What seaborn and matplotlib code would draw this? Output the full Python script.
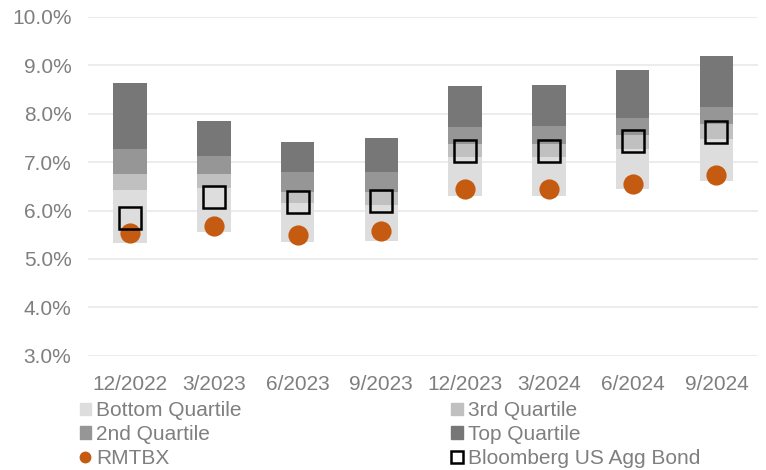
# import libraries
import pandas as pd
import matplotlib.pyplot as plt
import seaborn as sns
from matplotlib.patches import Patch
from matplotlib.lines import Line2D
from matplotlib.ticker import PercentFormatter


# data (values in %)
periods = ["12/2022", "3/2023", "6/2023", "9/2023",
           "12/2023", "3/2024", "6/2024", "9/2024"]

bottom_low = [5.34, 5.55, 5.35, 5.37, 6.31, 6.31, 6.45, 6.62]
q3_low = [6.42, 6.47, 6.15, 6.12, 7.11, 7.11, 7.27, 7.47]
q2_low = [6.75, 6.75, 6.38, 6.38, 7.37, 7.37, 7.56, 7.78]
top_low = [7.28, 7.12, 6.79, 6.79, 7.72, 7.74, 7.91, 8.13]
top_high = [8.64, 7.86, 7.41, 7.49, 8.57, 8.60, 8.91, 9.19]

rmtbx = [5.53, 5.68, 5.49, 5.58, 6.44, 6.44, 6.54, 6.73]
agg_bond = [5.85, 6.28, 6.17, 6.20, 7.23, 7.23, 7.43, 7.62]

seg_names = ["Bottom Quartile", "3rd Quartile", "2nd Quartile", "Top Quartile"]
seg_colors = ["#dddddd", "#c0c0c0", "#969696", "#777777"]
dot_color = "#c55a11"
text_color = "#7f7f7f"


# style
sns.set_style("white")
plt.rcParams["font.family"] = ["Liberation Sans", "DejaVu Sans"]

fig = plt.figure(figsize=(7.66, 4.70), dpi=100)
ax = fig.add_axes([0.115, 0.243, 0.875, 0.721])


# floating stacked bars
edges = [bottom_low, q3_low, q2_low, top_low, top_high]

for i, name in enumerate(seg_names):
    seg = pd.DataFrame({
        "period": periods,
        "height": [hi - lo for lo, hi in zip(edges[i], edges[i + 1])]
    })
    sns.barplot(
        data=seg,
        x="period",
        y="height",
        order=periods,
        bottom=edges[i],
        color=seg_colors[i],
        saturation=1,
        width=0.4,
        linewidth=0,
        ax=ax,
        zorder=2
    )


# markers
sns.pointplot(
    x=periods,
    y=rmtbx,
    order=periods,
    color=dot_color,
    marker="o",
    markersize=12.5,
    linestyle="none",
    ax=ax,
    zorder=4
)

sns.pointplot(
    x=periods,
    y=agg_bond,
    order=periods,
    color="black",
    marker="s",
    markersize=16,
    markerfacecolor="none",
    markeredgewidth=1.8,
    linestyle="none",
    ax=ax,
    zorder=5
)


# axes
ax.set_ylim(3, 10)
ax.set_xlim(-0.5, 7.5)
ax.set_yticks([3, 4, 5, 6, 7, 8, 9, 10])
ax.yaxis.set_major_formatter(PercentFormatter(decimals=1))
ax.grid(axis="y", color="#e8e9ec", linewidth=1.2, zorder=0)
ax.set_axisbelow(True)
sns.despine(ax=ax, left=True, bottom=True)
ax.set_xlabel("")
ax.set_ylabel("")
ax.tick_params(axis="both", length=0, labelsize=15, colors=text_color, pad=12)
ax.tick_params(axis="x", pad=13.5)


# legend
handles = [
    Patch(color=seg_colors[0], label=seg_names[0]),
    Patch(color=seg_colors[2], label=seg_names[2]),
    Line2D([], [], marker="o", color=dot_color, linestyle="none",
           markersize=7.5, label="RMTBX"),
    Patch(color=seg_colors[1], label=seg_names[1]),
    Patch(color=seg_colors[3], label=seg_names[3]),
    Line2D([], [], marker="s", markerfacecolor="none", markeredgecolor="black",
           markeredgewidth=1.8, linestyle="none", markersize=8,
           label="Bloomberg US Agg Bond"),
]

fig.legend(
    handles=handles,
    loc="upper left",
    bbox_to_anchor=(0.104, 0.146),
    ncol=2,
    frameon=False,
    fontsize=15,
    labelcolor=text_color,
    handlelength=0.55,
    handleheight=0.55,
    handletextpad=0.25,
    labelspacing=0.22,
    columnspacing=10.05,
    borderaxespad=0,
    borderpad=0
)

plt.savefig("out.png", dpi=100)
